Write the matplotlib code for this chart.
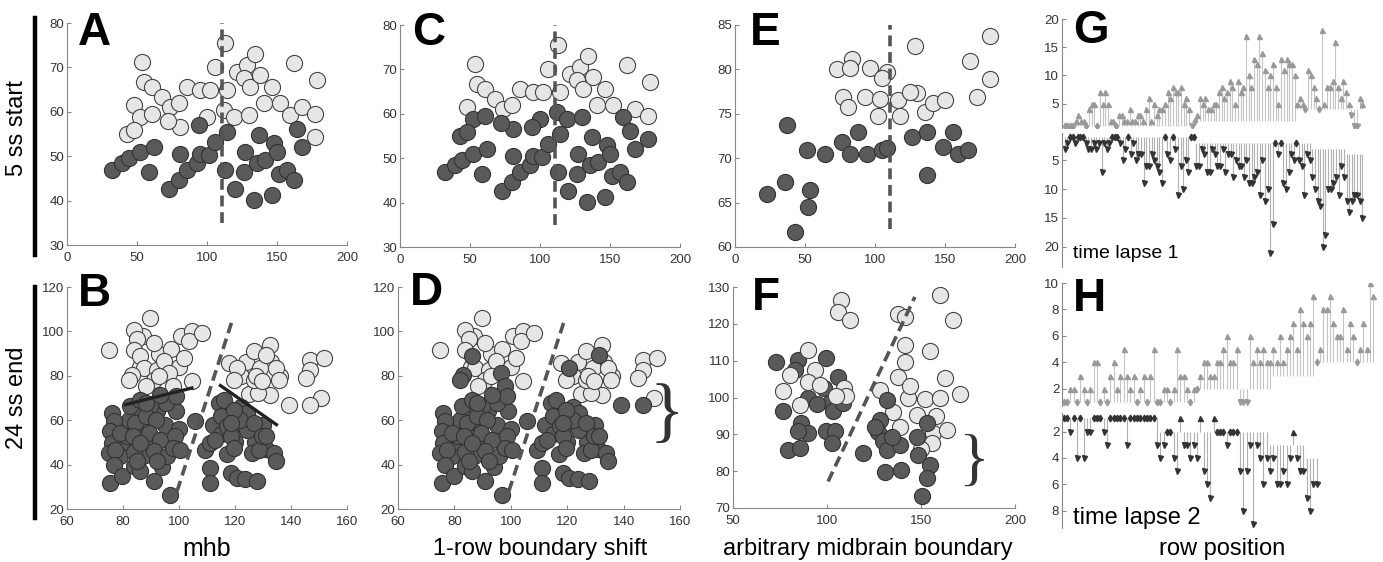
import numpy as np
import matplotlib.pyplot as plt
from matplotlib.lines import Line2D

plt.rcParams['font.family'] = ['Liberation Sans', 'DejaVu Sans']

# ---- panels A / C (5 ss start), same cells, two boundary calls ----
ac_x = [53.6, 54.8, 60.7, 67.9, 73.8, 79.8, 47.6, 52.4, 60.7, 42.9, 47.6, 81.0, 85.7, 95.2, 100.0, 106.0,
        102.4, 113.0, 114.3, 111.9, 119.0, 121.4, 128.6, 126.2, 131.0, 129.8, 134.5, 138.1, 140.5, 146.4,
        152.4, 161.9, 159.5, 167.9, 177.4, 178.6, 177.4, 72.0,
        32.1, 39.3, 44.0, 52.4, 61.9, 58.3, 81.0, 72.6, 79.8, 85.7, 92.9, 95.2, 101.2, 105.9, 114.3, 94.0,
        113.0, 120.2, 126.2, 127.4, 133.3, 136.9, 135.7, 141.7, 146.4, 147.6, 150.0, 151.2, 157.1, 161.9,
        164.3, 167.9]
ac_y = [71.2, 66.7, 65.6, 63.4, 61.1, 61.9, 61.5, 58.9, 59.6, 55.1, 55.9, 56.6, 65.6, 64.9, 58.9, 70.1,
        64.9, 75.4, 64.9, 60.4, 58.9, 69.0, 70.5, 67.5, 65.6, 59.2, 73.1, 68.2, 61.9, 65.6,
        61.9, 70.9, 59.2, 61.1, 59.6, 67.1, 54.4, 58.0,
        46.9, 48.4, 49.5, 51.0, 52.1, 46.5, 50.6, 42.7, 44.6, 46.9, 48.4, 50.6, 50.2, 53.2, 55.5, 57.0,
        46.9, 42.7, 46.5, 51.0, 40.1, 54.7, 48.4, 49.1, 41.2, 52.9, 51.0, 46.1, 46.9, 44.6,
        56.2, 52.1]
# 0 = anterior (light), 1 = posterior (dark)
lab_A = [0] * 38 + [1] * 32
lab_C = [0, 0, 0, 0, 0, 0, 0, 1, 1, 1, 1, 1, 0, 0, 1, 0, 0, 0, 0, 1, 1, 0, 0, 0, 0, 1, 0, 0, 0, 0,
         0, 0, 1, 0, 0, 0, 1, 1] + [1] * 32

# ---- panel E ----
e_light_x = [72.6, 83.3, 82.1, 96.4, 108.3, 104.8, 77.4, 81.0, 92.9, 103.6, 102.4, 116.7, 117.9, 128.6,
             129.8, 125.0, 135.7, 141.7, 150.0, 167.9, 172.6, 182.1, 182.1]
e_light_y = [80.1, 81.2, 80.2, 80.2, 79.7, 79.0, 76.9, 75.8, 76.9, 76.7, 74.8, 76.5, 74.8, 82.6,
             77.3, 77.5, 75.2, 76.2, 76.6, 80.9, 76.9, 83.8, 78.9]
e_dark_x = [36.9, 51.2, 64.3, 76.2, 82.1, 88.1, 94.0, 104.8, 108.3, 126.2, 136.9, 136.9, 148.8, 155.9,
            159.5, 166.7, 22.6, 35.7, 53.6, 52.4, 42.9]
e_dark_y = [73.7, 70.9, 70.5, 71.8, 70.5, 73.0, 70.5, 70.9, 71.2, 72.4, 73.0, 68.1, 71.3, 73.0,
            70.5, 70.9, 66.0, 67.3, 66.4, 64.5, 61.7]

# ---- panels B / D (24 ss end) ----
bd_x = [74.9, 83.8, 89.8, 85.0, 83.8, 90.9, 86.2, 87.4, 83.2, 82.0, 92.1, 94.6, 96.4, 100.7, 104.5,
        103.6, 108.3, 101.8, 104.5, 91.0, 88.3, 98.0, 93.0, 117.7, 120.8, 119.5, 126.7, 129.0, 132.4,
        131.2, 134.5, 135.7, 132.4, 128.3, 139.2, 126.7, 146.9, 146.9, 145.2, 150.7, 146.9, 151.7,
        127.5, 129.5,
        76.1, 76.7, 75.5, 76.1, 74.9, 77.3, 76.7, 75.5, 79.8, 83.8, 86.2, 83.8, 81.4, 84.4, 82.6, 86.2,
        89.8, 88.1, 91.7, 89.3, 93.3, 90.9, 95.7, 92.1, 90.9, 96.9, 98.7, 98.0, 100.5, 95.2, 98.8, 93.3,
        88.1, 79.0, 83.5, 85.0, 86.2, 105.8,
        109.4, 111.2, 111.2, 111.2, 114.2, 116.0, 114.9, 117.3, 118.5, 119.5, 118.5, 120.8, 123.7,
        124.3, 124.3, 121.9, 126.7, 126.1, 128.5, 129.5, 127.9, 133.8, 134.5, 131.2, 119.5, 118.5, 113.0]
bd_y = [91.8, 100.8, 106.0, 96.4, 91.8, 94.8, 88.8, 83.5, 80.5, 78.3, 82.8, 86.5, 81.3, 97.8, 100.0,
        95.5, 99.3, 88.0, 77.5, 78.3, 75.3, 75.3, 79.8, 85.8, 83.5, 78.3, 91.0, 83.5, 94.0,
        89.5, 83.5, 78.3, 71.5, 72.2, 67.0, 78.3, 87.3, 82.8, 79.0, 70.0, 67.0, 88.0,
        79.8, 77.5,
        63.2, 59.5, 55.0, 49.7, 45.2, 46.7, 40.0, 31.7, 34.7, 39.2, 37.0, 45.9, 52.8, 58.9, 66.4, 69.2,
        66.4, 61.8, 60.2, 54.3, 51.3, 46.0, 43.8, 41.5, 32.4, 26.4, 52.8, 47.6, 46.7, 67.8, 70.8, 71.5,
        67.8, 54.3, 52.8, 41.5, 49.7, 59.5,
        46.7, 49.7, 38.5, 31.7, 67.8, 69.2, 61.8, 57.3, 52.8, 47.6, 36.3, 34.1, 33.3,
        63.2, 55.7, 60.2, 58.8, 45.2, 46.7, 52.8, 32.4, 45.2, 41.5, 52.8, 64.7, 58.8, 51.3]
lab_B = [0] * 44 + [1] * 65
lab_D = [0, 0, 0, 0, 0, 0, 1, 0, 1, 1, 0, 0, 1, 0, 0, 0, 0, 0, 0, 0, 0, 1, 0, 0, 1, 0, 0, 0, 0,
         1, 0, 0, 0, 0, 1, 0, 0, 0, 0, 0, 1, 0, 0, 0] + [1] * 65
# extra cells hidden in the crowded clusters (same call in B and D)
bd_more_light_x = [87.0, 93.0, 97.0, 100.0, 86.0, 124.0, 133.0, 136.0, 122.0, 125.0]
bd_more_light_y = [98.0, 90.0, 92.0, 84.0, 84.0, 86.0, 86.0, 80.0, 80.0, 72.0]
bd_more_dark_x = [78.0, 80.0, 85.0, 88.0, 92.0, 95.0, 97.0, 100.0, 90.0, 84.0, 79.0, 87.0, 94.0, 82.0,
                  99.0, 112.0, 115.0, 120.0, 123.0, 127.0, 130.0, 116.0, 122.0, 131.0, 117.0]
bd_more_dark_y = [57.0, 48.0, 62.0, 56.0, 64.0, 58.0, 50.0, 56.0, 48.0, 54.0, 44.0, 44.0, 39.0, 60.0,
                  64.0, 58.0, 54.0, 50.0, 58.0, 50.0, 58.0, 64.0, 66.0, 47.0, 45.0]

# ---- panel F ----
f_light_x = [107.6, 105.9, 112.1, 137.9, 141.5, 160.0, 167.2, 141.5, 141.5, 137.9, 154.9, 162.8, 170.8,
             143.3, 144.2, 152.1, 160.0, 147.7, 138.8, 156.6, 163.6, 155.7, 89.9, 93.6, 76.6, 85.5,
             89.9, 109.0, 96.2, 80.2, 110.0, 104.7, 128.1, 135.0, 150.0, 158.0]
f_light_y = [126.4, 123.2, 121.0, 122.8, 121.9, 127.7, 121.0, 114.2, 109.7, 105.6, 112.5, 105.4, 100.9,
             100.0, 103.0, 99.5, 100.0, 95.2, 92.1, 90.3, 91.3, 87.6, 112.9, 107.4, 101.9, 98.0,
             104.2, 102.5, 103.4, 106.1, 100.3, 100.5, 102.0, 96.0, 86.0, 95.0]
f_dark_x = [73.1, 84.6, 99.7, 82.8, 105.7, 98.6, 89.9, 76.6, 86.3, 89.9, 84.6, 101.5, 103.3, 94.5,
            99.7, 104.1, 102.4, 79.3, 85.5, 108.7,
            119.3, 131.7, 128.1, 127.2, 129.8, 131.7, 130.8, 139.6, 138.8, 134.4, 147.7, 153.0, 148.6,
            154.8, 153.0, 150.3, 125.4]
f_dark_y = [109.7, 110.2, 110.6, 107.4, 105.6, 102.5, 99.8, 96.2, 93.0, 90.3, 90.8, 98.6, 96.4, 98.2,
            90.8, 90.8, 87.6, 85.8, 86.3, 98.6,
            84.9, 99.3, 93.9, 90.7, 88.1, 85.8, 79.9, 80.3, 87.1, 89.4, 89.4, 93.0, 84.4,
            81.7, 78.2, 73.2, 92.1]

# ---- panels G / H: row shifts (start row, end row) ----
g_up = [1, 1, 1, 1, 2, 3, 2, 2, 1, 4, 5, 5, 1, 7, 5, 7, 5, 2, 2, 1, 3, 3, 2, 2, 4, 2, 2, 3, 3, 2,
        4, 6, 2, 5, 3, 4, 4, 5, 7, 6, 8, 7, 7, 8, 5, 6, 4, 1, 2, 3, 6, 5, 6, 4, 4, 5, 5, 7, 8, 6,
        7, 9, 8, 5, 9, 7, 8, 17, 10, 8, 13, 12, 17, 14, 11, 8, 10, 12, 8, 5, 13, 11, 13, 12, 12, 10,
        5, 6, 5, 4, 11, 10, 8, 6, 4, 18, 5, 8, 8, 9, 16, 8, 6, 9, 7, 5, 3, 1, 1, 6, 5]
g_up_start = [1] * 47 + [2] * 39 + [4] * 25
g_dn = [3, 2, 1, 1, 2, 1, 1, 1, 2, 3, 3, 2, 3, 2, 7, 2, 3, 2, 1, 1, 1, 2, 5, 3, 1, 4, 2, 5, 4, 4,
        9, 6, 6, 4, 5, 6, 7, 9, 1, 4, 5, 1, 3, 11, 6, 10, 5, 7, 1, 1, 6, 6, 3, 4, 7, 7, 3, 4, 6, 6,
        3, 7, 4, 4, 8, 5, 6, 6, 8, 5, 9, 9, 8, 7, 11, 5, 12, 10, 21, 16, 2, 4, 2, 9, 10, 7, 4, 5, 2, 5,
        6, 11, 4, 5, 8, 10, 12, 13, 20, 18, 10, 10, 9, 8, 11, 6, 8, 12, 14, 12, 11, 11, 12, 15]
g_dn_start = [1] * 50 + [2] * 44 + [3] * 13 + [4] * 7
h_up = [1, 1, 2, 2, 1, 3, 2, 1, 2, 4, 4, 1, 2, 1, 3, 4, 2, 3, 5, 3, 2, 3, 1, 2, 3, 1, 3, 5, 1, 1,
        2, 2, 1, 2, 5, 3, 3, 2, 1, 2, 2, 3, 4, 4, 3, 3, 4, 4, 5, 6, 4, 4, 5, 1, 1, 1, 6, 4, 5, 4,
        5, 4, 4, 5, 4, 6, 4, 5, 6, 7, 5, 8, 7, 6, 7, 9, 4, 5, 8, 8, 9, 7, 6, 6, 8, 5, 7, 6, 4, 5,
        7, 5, 10, 9]
h_up_start = [1] * 40 + [2] * 23 + [3] * 13 + [4] * 18
h_dn = [1, 1, 2, 1, 4, 1, 4, 2, 2, 1, 1, 1, 2, 3, 1, 1, 1, 1, 1, 3, 1, 1, 1, 1, 1, 1, 1, 1, 3, 4,
        3, 2, 2, 4, 5, 1, 3, 3, 4, 3, 4, 1, 5, 6, 7, 1, 2, 2, 2, 3, 2, 2, 2, 5, 8, 5, 3, 9, 3, 4,
        6, 4, 5, 4, 6, 6, 5, 6, 4, 2, 4, 5, 5, 7, 8, 6, 6]
h_dn_start = [1] * 29 + [2] * 33 + [3] * 11 + [4] * 4

W, H = 1383, 562
fig = plt.figure(figsize=(W / 100, H / 100), dpi=100)

S = 135
LIGHT, DARK = '#e6e6e6', '#5a5a5a'


def rect(l, t, r, b):
    return [l / W, 1 - b / H, (r - l) / W, (b - t) / H]


def style(ax):
    for s in ['top', 'right']:
        ax.spines[s].set_visible(False)
    for s in ['left', 'bottom']:
        ax.spines[s].set_color('#888')
    ax.tick_params(direction='in', length=3, color='#888', labelcolor='#333', labelsize=9.5, pad=2)
    ax.tick_params(axis='x', pad=5)


def dots(ax, x, y, lab):
    x, y, lab = np.array(x), np.array(y), np.array(lab)
    ax.scatter(x[lab == 0], y[lab == 0], s=S, c=LIGHT, edgecolors='#444', linewidths=0.8,
               zorder=2, clip_on=False)
    ax.scatter(x[lab == 1], y[lab == 1], s=S, c=DARK, edgecolors='#333', linewidths=0.8,
               zorder=3, clip_on=False)


def dash(ax, xs, ys):
    ax.plot(xs, ys, color='#555', lw=2.6, dashes=(3, 1.6), zorder=4)


# A
ax = fig.add_axes(rect(67, 23, 347, 245))
dots(ax, ac_x, ac_y, lab_A)
dash(ax, [111, 111], [35, 80])
ax.set_xlim(0, 200); ax.set_ylim(30, 80)
ax.set_xticks([0, 50, 100, 150, 200]); ax.set_yticks([30, 40, 50, 60, 70, 80])
style(ax)

# C
ax = fig.add_axes(rect(400, 25, 680, 247))
dots(ax, ac_x, ac_y, lab_C)
dash(ax, [111, 111], [35, 80])
ax.set_xlim(0, 200); ax.set_ylim(30, 80)
ax.set_xticks([0, 50, 100, 150, 200]); ax.set_yticks([30, 40, 50, 60, 70, 80])
style(ax)

# E
ax = fig.add_axes(rect(735, 25, 1015, 247))
ax.scatter(e_light_x, e_light_y, s=S, c=LIGHT, edgecolors='#444', linewidths=0.8, zorder=2)
ax.scatter(e_dark_x, e_dark_y, s=S, c=DARK, edgecolors='#333', linewidths=0.8, zorder=3)
dash(ax, [111, 111], [62, 85])
ax.set_xlim(0, 200); ax.set_ylim(60, 85)
ax.set_xticks([0, 50, 100, 150, 200]); ax.set_yticks([60, 65, 70, 75, 80, 85])
style(ax)

# B and D
for (l, r), lab, letter in [((67, 347), lab_B, 'B'), ((398, 680), lab_D, 'D')]:
    ax = fig.add_axes(rect(l, 287, r, 509))
    ax.scatter(bd_more_light_x, bd_more_light_y, s=S, c=LIGHT, edgecolors='#444', linewidths=0.8, zorder=2)
    ax.scatter(bd_more_dark_x, bd_more_dark_y, s=S, c=DARK, edgecolors='#333', linewidths=0.8, zorder=3)
    dots(ax, bd_x, bd_y, lab)
    dash(ax, [99.3, 118.9], [28, 104.5])
    if letter == 'B':
        ax.plot([80.8, 104.6], [67, 74.5], color='#222', lw=2.4, zorder=5)
        ax.plot([114.8, 134.8], [75.6, 58], color='#222', lw=2.4, zorder=5)
    else:
        ax.text(155.4, 62, '}', fontsize=52, family='Liberation Serif', ha='center', va='center',
                color='#333')
    ax.set_xlim(60, 160); ax.set_ylim(20, 120)
    ax.set_xticks([60, 80, 100, 120, 140, 160]); ax.set_yticks([20, 40, 60, 80, 100, 120])
    style(ax)

# F
ax = fig.add_axes(rect(733, 287, 1015, 508))
ax.scatter(f_dark_x[:20], f_dark_y[:20], s=S, c=DARK, edgecolors='#333', linewidths=0.8, zorder=2)
ax.scatter(f_light_x, f_light_y, s=S, c=LIGHT, edgecolors='#444', linewidths=0.8, zorder=3)
ax.scatter(f_dark_x[20:], f_dark_y[20:], s=S, c=DARK, edgecolors='#333', linewidths=0.8, zorder=4,
           clip_on=False)
dash(ax, [100.6, 146.7], [77.2, 127.3])
ax.text(177.7, 82, '}', fontsize=46, family='Liberation Serif', ha='center', va='center', color='#333')
ax.set_xlim(50, 200); ax.set_ylim(70, 130)
ax.set_xticks([50, 100, 150, 200]); ax.set_yticks([70, 80, 90, 100, 110, 120, 130])
style(ax)


def stems(ax, vals, start, mcol, lcol, inverted):
    x = np.arange(len(vals))
    v, b = np.array(vals), np.array(start)
    ax.vlines(x, b, v, color=lcol, lw=0.8)
    up, dn, eq = v > b, v < b, v == b
    ax.plot(x[up], v[up], 'v' if inverted else '^', ms=3.6, color=mcol, mec=mcol, lw=0)
    ax.plot(x[dn], v[dn], '^' if inverted else 'v', ms=3.6, color=mcol, mec=mcol, lw=0)
    ax.plot(x[eq], v[eq], 'd', ms=3.4, color=mcol, mec=mcol, lw=0)
    for s in ['top', 'right', 'bottom']:
        ax.spines[s].set_visible(False)
    ax.spines['left'].set_color('#888')
    ax.set_xticks([])
    ax.tick_params(direction='in', length=3, color='#888', labelcolor='#333', labelsize=9.5, pad=2)


ax = fig.add_axes(rect(1062, 19, 1365, 128))
stems(ax, g_up, g_up_start, '#999', '#c4c4c4', False)
ax.set_xlim(-1, len(g_up)); ax.set_ylim(0.7, 20); ax.set_yticks([5, 10, 15, 20])

ax = fig.add_axes(rect(1062, 133, 1365, 267))
stems(ax, g_dn, g_dn_start, '#333', '#b0b0b0', True)
ax.set_xlim(-1, len(g_dn)); ax.set_ylim(23.5, 0.3); ax.set_yticks([5, 10, 15, 20])

ax = fig.add_axes(rect(1062, 283, 1380, 406))
stems(ax, h_up, h_up_start, '#999', '#c4c4c4', False)
ax.set_xlim(-0.5, 95); ax.set_ylim(0.7, 10); ax.set_yticks([2, 4, 6, 8, 10])

ax = fig.add_axes(rect(1062, 413, 1380, 528))
stems(ax, h_dn, h_dn_start, '#333', '#b0b0b0', True)
ax.set_xlim(-0.5, 95); ax.set_ylim(9.3, 0.6); ax.set_yticks([2, 4, 6, 8])

# panel letters
for letter, px, py in [('A', 78, 45), ('C', 412, 45), ('E', 750, 45), ('G', 1073, 43),
                       ('B', 78, 306), ('D', 410, 305), ('F', 752, 310), ('H', 1073, 311)]:
    fig.text(px / W, 1 - py / H, letter, fontsize=33, fontweight='bold', va='baseline', ha='left')

# row labels and bars
fig.add_artist(Line2D([35 / W, 35 / W], [1 - 18 / H, 1 - 255 / H], color='black', lw=3.2))
fig.add_artist(Line2D([35 / W, 35 / W], [1 - 287 / H, 1 - 518 / H], color='black', lw=3.2))
fig.text(17 / W, 1 - 128 / H, '5 ss start', rotation=90, fontsize=17, ha='center', va='center')
fig.text(17 / W, 1 - 398 / H, '24 ss end', rotation=90, fontsize=17, ha='center', va='center')

# axis labels
fig.text(207 / W, 1 - 549 / H, 'mhb', fontsize=18, ha='center', va='center')
fig.text(540 / W, 1 - 549 / H, '1-row boundary shift', fontsize=17, ha='center', va='center')
fig.text(868 / W, 1 - 549 / H, 'arbitrary midbrain boundary', fontsize=17, ha='center', va='center')
fig.text(1222 / W, 1 - 549 / H, 'row position', fontsize=17, ha='center', va='center')
fig.text(1073 / W, 1 - 258 / H, 'time lapse 1', fontsize=14, ha='left', va='baseline')
fig.text(1073 / W, 1 - 524 / H, 'time lapse 2', fontsize=17, ha='left', va='baseline')

fig.savefig('out.png', dpi=100)
